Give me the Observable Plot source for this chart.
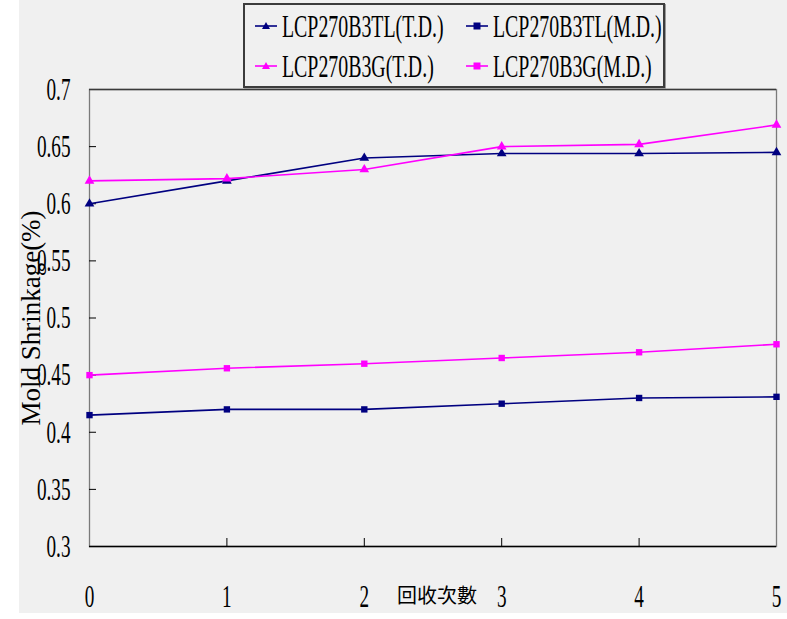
<!DOCTYPE html>
<html>
<head>
<meta charset="utf-8">
<script src="https://cdn.jsdelivr.net/npm/d3@7"></script>
<script src="https://cdn.jsdelivr.net/npm/@observablehq/plot@0.6"></script>
<style>
  html, body { margin: 0; padding: 0; background: #ffffff; }
  #wrap { position: relative; width: 787px; height: 619px; overflow: hidden; }
  #bg { position: absolute; left: 19px; top: 0; width: 768px; height: 613px; background: #f0f0f0; }
  #chart { position: absolute; left: 0; top: 0; }
  #legend { position: absolute; left: 243px; top: 3px; width: 422px; height: 85px; box-sizing: border-box;
            border: 2px solid #3c3c3c; box-shadow: 1px 1px 0 #9a9a9a; background: #f0f0f0; }
  .entry { position: absolute; height: 40px; }
  .entry svg { position: absolute; left: 0; top: 10px; }
  .entry span { position: absolute; left: 27px; top: 0; height: 40px; line-height: 40px; white-space: nowrap;
                font-family: "Liberation Serif", serif; font-size: 32px; color: #000;
                transform: scaleX(0.62); transform-origin: left center; }
</style>
</head>
<body>
<div id="wrap">
  <div id="bg"></div>
  <div id="chart"></div>
  <div id="legend"></div>
</div>
<script>
// ---- data ----
const cycles = [0, 1, 2, 3, 4, 5];
const seriesNames = ["LCP270B3TL(T.D.)", "LCP270B3TL(M.D.)", "LCP270B3G(T.D.)", "LCP270B3G(M.D.)"];
const seriesColors = ["#000080", "#000080", "#ff00ff", "#ff00ff"];
const seriesSymbols = ["triangle", "square", "triangle", "square"];
const b3tlTD = [0.600, 0.620, 0.640, 0.644, 0.644, 0.645];
const b3tlMD = [0.415, 0.420, 0.420, 0.425, 0.430, 0.431];
const b3gTD  = [0.620, 0.622, 0.630, 0.650, 0.652, 0.669];
const b3gMD  = [0.450, 0.456, 0.460, 0.465, 0.470, 0.477];
const yTicks = [0.3, 0.35, 0.4, 0.45, 0.5, 0.55, 0.6, 0.65, 0.7];
const xTicks = [0, 1, 2, 3, 4, 5];
const yLabel = "Mold Shrinkage(%)";
const xLabel = "回收次數";

const seriesValues = [b3tlTD, b3tlMD, b3gTD, b3gMD];
const data = seriesNames.flatMap((name, s) =>
  cycles.map((c, i) => ({ cycle: c, value: seriesValues[s][i], name })));

const W = 787, H = 619, ML = 89, MR = 11, MT = 89, MB = 73;
const frameW = W - ML - MR, frameH = H - MT - MB;

const chart = Plot.plot({
  width: W,
  height: H,
  marginLeft: ML,
  marginRight: MR,
  marginTop: MT,
  marginBottom: MB,
  style: { background: "transparent", fontFamily: "Liberation Serif, serif", color: "#000" },
  x: { domain: [0, 5] },
  y: { domain: [0.3, 0.7] },
  color: { domain: seriesNames, range: seriesColors },
  symbol: { domain: seriesNames, range: seriesSymbols },
  marks: [
    Plot.frame({ stroke: "#7a7a7a", strokeWidth: 1.3 }),
    Plot.ruleY([0.7], { stroke: "#3a3a3a", strokeWidth: 1.3 }),
    Plot.ruleY([0.3], { stroke: "#000", strokeWidth: 1.3 }),
    // inward tick marks
    Plot.tickY(yTicks.slice(1, -1), { y: d => d, insetRight: frameW - 7, stroke: "#000", strokeWidth: 1 }),
    Plot.tickX(xTicks.slice(1, -1), { x: d => d, insetTop: frameH - 8, stroke: "#000", strokeWidth: 1 }),
    Plot.axisY(yTicks, { tickSize: 0, tickPadding: 19, fontSize: 32, tickFormat: d => String(d),
      label: yLabel, labelAnchor: "center", labelOffset: 69, labelArrow: "none" }),
    Plot.axisX(xTicks, { tickSize: 0, tickPadding: 38, fontSize: 32, tickFormat: d => String(d),
      label: xLabel, labelAnchor: "center", labelOffset: 56, labelArrow: "none" }),
    Plot.line(data, { x: "cycle", y: "value", z: "name", stroke: "name", strokeWidth: 1.6 }),
    Plot.dot(data, { x: "cycle", y: "value", fill: "name", symbol: "name", r: 3.6, stroke: null })
  ]
});
document.getElementById("chart").appendChild(chart);

// condense tick-label glyphs horizontally (the reference font is a narrow serif)
function condense(sel, s) {
  chart.querySelectorAll(sel).forEach(t => {
    const tr = t.getAttribute("transform") || "";
    t.setAttribute("transform", (tr + ` scale(${s},1)`).trim());
  });
}
condense('g[aria-label="y-axis tick label"] text', 0.6);
condense('g[aria-label="x-axis tick label"] text', 0.6);
chart.querySelectorAll('g[aria-label="y-axis label"] text').forEach(t => { t.style.fontSize = "27px"; });
chart.querySelectorAll('g[aria-label="x-axis label"] text').forEach(t => {
  t.style.fontSize = "20px"; t.style.fontFamily = "'Noto Sans CJK TC', sans-serif";
  t.setAttribute("dx", 4);
});

// legend
const legend = document.getElementById("legend");
const pos = [[10, 1], [221, 1], [10, 41], [221, 41]];
seriesNames.forEach((name, i) => {
  const e = document.createElement("div");
  e.className = "entry";
  e.style.left = pos[i][0] + "px";
  e.style.top = pos[i][1] + "px";
  const c = seriesColors[i];
  const marker = seriesSymbols[i] === "triangle"
    ? `<path d="M11,6 L15,13 L7,13 Z" fill="${c}"/>`
    : `<rect x="7.5" y="6.5" width="7" height="7" fill="${c}"/>`;
  e.innerHTML = `<svg width="22" height="20"><line x1="0" x2="22" y1="10" y2="10" stroke="${c}" stroke-width="1.6"/>${marker}</svg><span>${name}</span>`;
  legend.appendChild(e);
});
</script>
</body>
</html>
